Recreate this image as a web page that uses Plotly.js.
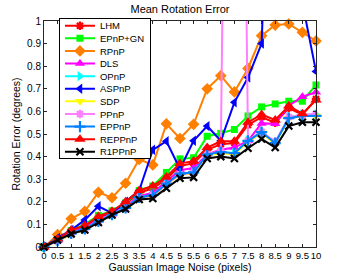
<!DOCTYPE html>
<html>
<head>
<meta charset="utf-8">
<script src="https://cdn.plot.ly/plotly-3.0.1.min.js"></script>
<style>
html,body{margin:0;padding:0;background:#fff;}
#chart{width:349px;height:279px;}
</style>
</head>
<body>
<div id="chart"></div>
<script>
// ---- data ----
const noise = [0,0.5,1,1.5,2,2.5,3,3.5,4,4.5,5,5.5,6,6.5,7,7.5,8,8.5,9,9.5,10];
const seriesNames = ["LHM","EPnP+GN","RPnP","DLS","OPnP","ASPnP","SDP","PPnP","EPPnP","REPPnP","R1PPnP"];
const LHM     = [0,0.033,0.070,0.090,0.130,0.152,0.190,0.240,0.260,0.300,0.360,0.370,0.430,0.455,0.460,0.540,0.575,0.550,0.615,0.585,0.655];
const EPnPGN  = [0,0.035,0.072,0.100,0.140,0.160,0.195,0.250,0.270,0.330,0.390,0.395,0.490,0.503,0.520,0.580,0.620,0.633,0.645,0.645,0.717];
const RPnP    = [0,0.055,0.125,0.158,0.242,0.218,0.282,0.388,0.363,0.545,0.480,0.543,0.700,0.758,0.686,0.790,0.935,0.982,0.987,0.950,0.912];
const DLS     = [0,0.030,0.065,0.085,0.120,0.145,0.180,0.225,0.240,0.290,0.340,0.350,0.410,0.430,0.440,0.470,0.547,0.545,0.625,0.665,0.685];
const OPnP    = [0,0.028,0.060,0.080,0.115,0.145,0.175,0.220,0.230,0.280,0.325,0.330,0.410,0.420,0.415,0.470,0.510,0.460,0.575,0.585,0.585];
const ASPnP   = [0,0.040,0.075,0.120,0.180,0.150,0.200,0.250,0.430,0.468,0.345,0.470,0.535,0.470,0.640,0.750,0.900,2.500,2.000,1.080,0.777];
const SDP     = [0,0.025,0.055,0.078,0.110,0.140,0.172,0.215,0.225,0.275,0.320,0.325,0.405,0.415,0.410,0.465,0.505,0.455,0.570,0.580,0.580];
const PPnP    = [0,0.027,0.058,0.078,0.112,0.142,0.172,0.218,0.228,0.278,0.322,0.328,0.410,0.425,5.600,0.470,0.510,0.465,0.575,0.585,0.590];
const EPPnP   = [0,0.028,0.060,0.080,0.113,0.143,0.173,0.220,0.230,0.280,0.325,0.330,0.410,0.420,0.415,0.470,0.508,0.460,0.570,0.580,0.580];
const REPPnP  = [0,0.035,0.075,0.095,0.135,0.158,0.200,0.250,0.270,0.310,0.370,0.380,0.440,0.468,0.468,0.552,0.586,0.562,0.624,0.590,0.650];
const R1PPnP  = [0,0.031,0.058,0.075,0.108,0.142,0.168,0.210,0.215,0.260,0.304,0.308,0.392,0.400,0.392,0.437,0.478,0.440,0.535,0.552,0.552];
const xTicks = noise;
const yTicks = [0,0.1,0.2,0.3,0.4,0.5,0.6,0.7,0.8,0.9,1];

// ---- styles ----
const values  = [LHM,EPnPGN,RPnP,DLS,OPnP,ASPnP,SDP,PPnP,EPPnP,REPPnP,R1PPnP];
const colors  = ["#ff0000","#00ff00","#ff8000","#ff00ff","#00ffff","#0000ff","#ffff00","#ff80ff","#0080ff","#ff0000","#000000"];
const symbols = ["asterisk-open","square","diamond","triangle-up","triangle-right","triangle-left","triangle-down","asterisk-open","cross-thin-open","triangle-up","x-thin-open"];
const sizes   = [7,7,9,9,9,9,9,7,8,10,7];
const openSym = s => s.indexOf("open") >= 0;

const data = seriesNames.map((nm,i) => ({
  type: "scatter",
  mode: "lines+markers",
  name: nm,
  x: noise,
  y: values[i],
  cliponaxis: (nm === "PPnP" || nm === "ASPnP"),
  line: {color: colors[i], width: 2},
  marker: {
    symbol: symbols[i],
    size: sizes[i],
    color: colors[i],
    line: {color: colors[i], width: openSym(symbols[i]) ? 2.2 : 0}
  },
  hoverinfo: "skip"
}));

const FONT = "Liberation Sans, Arial, Helvetica, sans-serif";
const axisCommon = {
  showgrid: false, zeroline: false,
  showline: true, linecolor: "#262626", linewidth: 1,
  mirror: "ticks", ticks: "inside", ticklen: 3, tickcolor: "#262626", tickwidth: 1,
  tickfont: {family: FONT, size: 10, color: "#000"},
  fixedrange: true
};

const layout = {
  width: 349, height: 279,
  margin: {l: 44, r: 33, t: 21, b: 32, pad: 0},
  paper_bgcolor: "#fff", plot_bgcolor: "#fff",
  font: {family: FONT, color: "#000"},
  title: {text: "Mean Rotation Error", font: {family: FONT, size: 11, color: "#000"},
          xref: "paper", x: 0.5, xanchor: "center", yref: "container", y: 0.968, yanchor: "middle"},
  xaxis: Object.assign({}, axisCommon, {
    range: [0, 10], tickmode: "array", tickvals: xTicks, ticktext: xTicks.map(String), tickangle: 0,
    tickfont: {family: FONT, size: 9.5, color: "#000"},
    title: {text: "Gaussian Image Noise (pixels)", font: {family: FONT, size: 10.5, color: "#000"}, standoff: 3}
  }),
  yaxis: Object.assign({}, axisCommon, {
    range: [0, 1], tickmode: "array", tickvals: yTicks, ticktext: yTicks.map(String),
    title: {text: "Rotation Error (degrees)", font: {family: FONT, size: 10.5, color: "#000"}, standoff: 4}
  }),
  showlegend: true,
  legend: {
    x: 0.055, y: 1.013, xanchor: "left", yanchor: "top",
    bgcolor: "#fff", bordercolor: "#000", borderwidth: 1,
    font: {family: FONT, size: 9.5, color: "#000"},
    itemsizing: "trace", tracegroupgap: 0
  }
};

Plotly.newPlot("chart", data, layout, {displayModeBar: false, staticPlot: true}).then(function(gd){
  // compact the legend rows to match the reference spacing
  var bg = gd.querySelector(".legend rect.bg");
  if (!bg) return;
  var items = gd.querySelectorAll(".legend .traces");
  var gap = 12.6, top = 7.2;
  var bgTop = bg.getCTM().f + parseFloat(bg.getAttribute("y") || 0);
  items.forEach(function(el, i){
    var t = el.getAttribute("transform") || "";
    var m = /translate\(\s*([-\d.eE]+)[\s,]*([-\d.eE]+)?\s*\)/.exec(t);
    var tx = m ? parseFloat(m[1]) : 0;
    var ty = m && m[2] ? parseFloat(m[2]) : 0;
    var cur = el.getCTM().f;
    var want = bgTop + top + i * gap;
    el.setAttribute("transform", "translate(" + tx + "," + (ty + want - cur) + ")");
  });
  bg.setAttribute("height", top * 2 + (items.length - 1) * gap);
});
</script>
</body>
</html>
